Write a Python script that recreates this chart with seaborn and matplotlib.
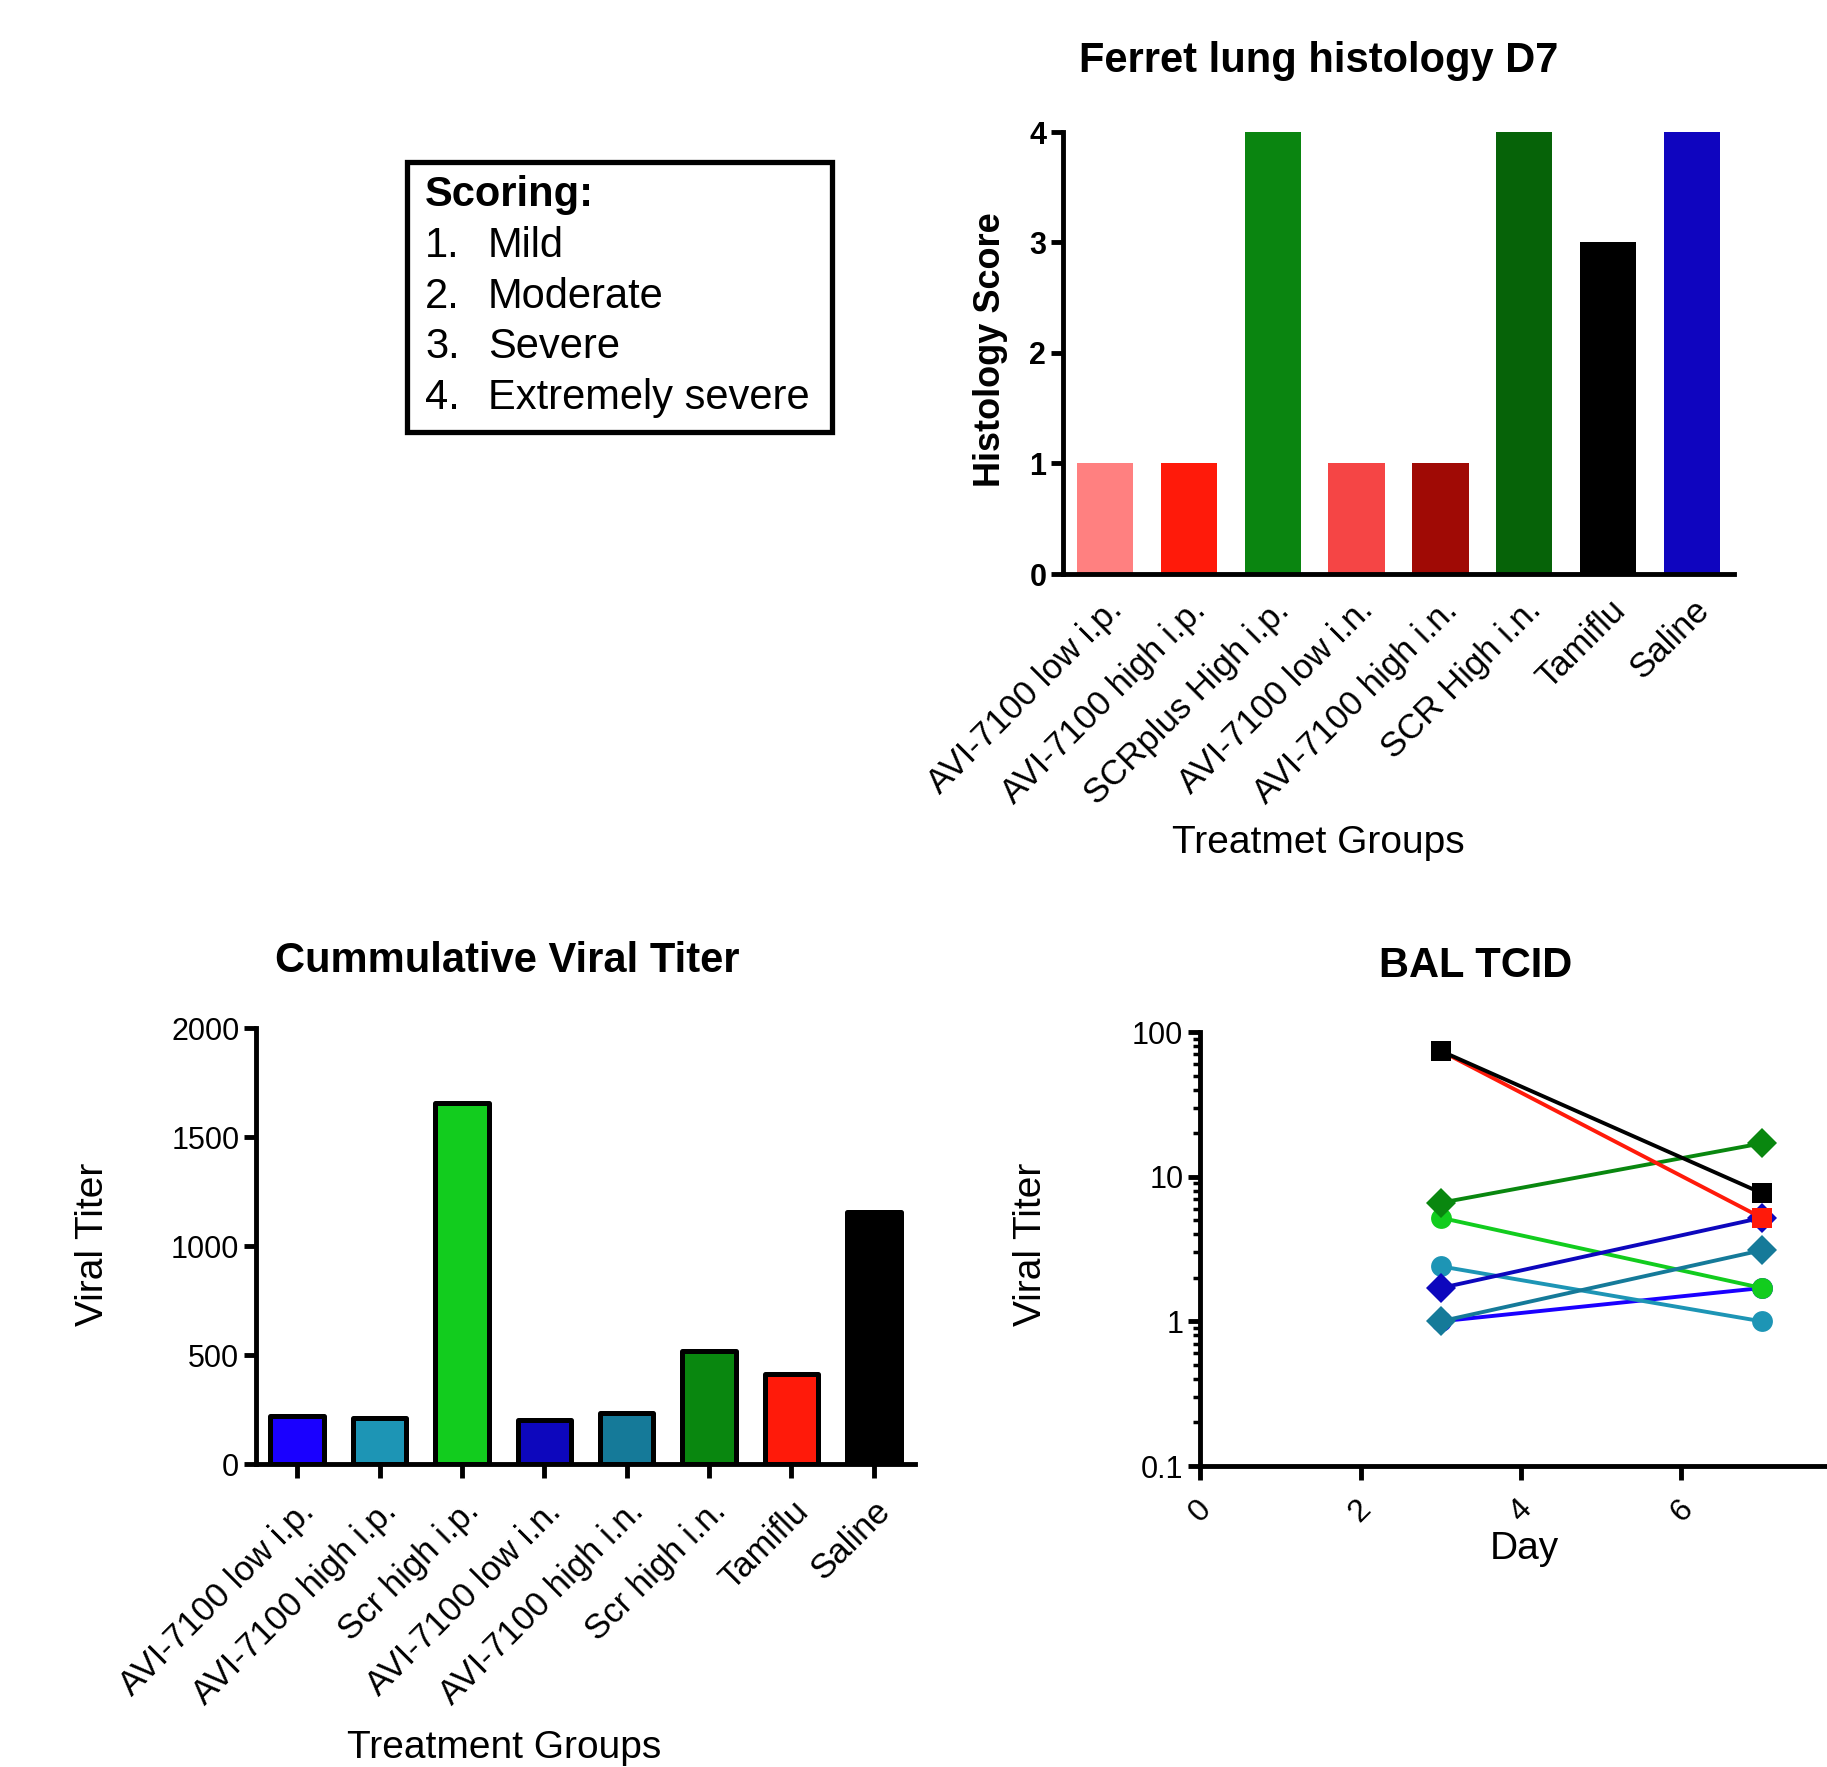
import matplotlib
matplotlib.use("Agg")
import matplotlib.pyplot as plt
import seaborn as sns
import pandas as pd
from matplotlib.patches import Rectangle
from matplotlib.ticker import LogLocator, NullFormatter, FixedLocator, FixedFormatter

# Ferret lung histology D7
histo_groups = ["AVI-7100 low i.p.", "AVI-7100 high i.p.", "SCRplus High i.p.",
                "AVI-7100 low i.n.", "AVI-7100 high i.n.", "SCR High i.n.", "Tamiflu", "Saline"]
histo_scores = [1, 1, 4, 1, 1, 4, 3, 4]
histo_colors = ["#ff8080", "#ff1a0a", "#0a8510", "#f54545", "#a00a05", "#066308", "#000000", "#0f05bf"]

# Cumulative viral titer
titer_groups = ["AVI-7100 low i.p.", "AVI-7100 high i.p.", "Scr high i.p.",
                "AVI-7100 low i.n.", "AVI-7100 high i.n.", "Scr high i.n.", "Tamiflu", "Saline"]
titer_values = [222, 212, 1655, 202, 232, 520, 412, 1155]
titer_colors = ["#1a00ff", "#1d95b5", "#12cc1e", "#0d07bd", "#157a99", "#09870f", "#ff1a0a", "#000000"]

# BAL TCID (day 3 and day 7)
bal_days = [3, 7]
bal_day3 = [1.0, 2.4, 5.2, 1.7, 1.0, 6.6, 74, 74]
bal_day7 = [1.7, 1.0, 1.7, 5.2, 3.1, 17, 5.2, 7.7]
bal_markers = ["o", "o", "o", "D", "D", "D", "s", "s"]

scoring_lines = ["Mild", "Moderate", "Severe", "Extremely severe"]

sns.set_style("ticks")
plt.rcParams["font.family"] = ["Liberation Sans", "DejaVu Sans"]
plt.rcParams.update({
    "axes.linewidth": 3.5,
    "axes.edgecolor": "black",
    "text.color": "black",
    "axes.labelcolor": "black",
    "xtick.color": "black",
    "ytick.color": "black",
})

W, H = 1827, 1767
fig = plt.figure(figsize=(W / 100, H / 100), dpi=100)


def fx(px):
    return px / W


def fy(py):
    return 1 - py / H


# ---- top right: histology bars
ax1 = fig.add_axes([fx(1063), fy(574), fx(671), 442 / H])
df1 = pd.DataFrame({"group": histo_groups, "score": histo_scores})
sns.barplot(data=df1, x="group", y="score", hue="group", palette=histo_colors,
            legend=False, saturation=1, width=0.67, linewidth=0, ax=ax1)
ax1.set_xlim(-0.5, 7.5)
ax1.set_ylim(0, 4)
ax1.set_yticks([0, 1, 2, 3, 4])
ax1.tick_params(axis="y", length=9, width=3.5, labelsize=22, pad=3)
ax1.tick_params(axis="x", length=0, pad=14)
for lab in ax1.get_yticklabels():
    lab.set_fontweight("bold")
ax1.set_xticks(range(len(histo_groups)))
ax1.set_xticklabels(histo_groups, rotation=45, ha="right", va="top",
                    rotation_mode="anchor", fontsize=25)
ax1.set_xlabel("")
ax1.set_ylabel("")
sns.despine(ax=ax1)

# ---- bottom left: viral titer bars
ax2 = fig.add_axes([fx(256), fy(1464), fx(659), 436 / H])
df2 = pd.DataFrame({"group": titer_groups, "titer": titer_values})
sns.barplot(data=df2, x="group", y="titer", hue="group", palette=titer_colors,
            legend=False, saturation=1, width=0.65, edgecolor="black",
            linewidth=3.6, ax=ax2)
for p in ax2.patches:
    p.set_joinstyle("round")
ax2.set_xlim(-0.5, 7.5)
ax2.set_ylim(0, 2000)
ax2.set_yticks([0, 500, 1000, 1500, 2000])
ax2.tick_params(axis="y", length=9, width=3.5, labelsize=22, pad=3)
ax2.tick_params(axis="x", length=10, width=3.5, pad=12)
ax2.set_xticks(range(len(titer_groups)))
ax2.set_xticklabels(titer_groups, rotation=45, ha="right", va="top",
                    rotation_mode="anchor", fontsize=25)
ax2.set_xlabel("")
ax2.set_ylabel("")
sns.despine(ax=ax2)

# ---- bottom right: BAL TCID lines
ax3 = fig.add_axes([fx(1200), fy(1466), fx(642), 434 / H])
rows = []
for g, a, b in zip(titer_groups, bal_day3, bal_day7):
    rows.append({"group": g, "day": bal_days[0], "titer": a})
    rows.append({"group": g, "day": bal_days[1], "titer": b})
df3 = pd.DataFrame(rows)
sns.lineplot(data=df3, x="day", y="titer", hue="group", style="group",
             hue_order=titer_groups, style_order=titer_groups,
             palette=dict(zip(titer_groups, titer_colors)),
             markers=dict(zip(titer_groups, bal_markers)), dashes=False,
             markersize=15, markeredgewidth=0, linewidth=2.8, legend=False, ax=ax3)
ax3.set_yscale("log")
ax3.set_ylim(0.1, 100)
ax3.set_xlim(0, 8)
ax3.yaxis.set_major_locator(FixedLocator([0.1, 1, 10, 100]))
ax3.yaxis.set_major_formatter(FixedFormatter(["0.1", "1", "10", "100"]))
ax3.yaxis.set_minor_locator(LogLocator(base=10, subs=range(2, 10)))
ax3.yaxis.set_minor_formatter(NullFormatter())
ax3.set_xticks([0, 2, 4, 6])
ax3.tick_params(axis="y", which="major", length=9, width=3.5, labelsize=22, pad=3)
ax3.tick_params(axis="y", which="minor", length=5, width=2.5)
ax3.tick_params(axis="x", length=10, width=3.5, labelsize=23, pad=10)
for lab in ax3.get_xticklabels():
    lab.set_rotation(45)
ax3.set_xlabel("")
ax3.set_ylabel("")
sns.despine(ax=ax3)

# ---- titles and axis labels
fig.text(fx(1319), fy(61), "Ferret lung histology D7", fontsize=30, fontweight="bold",
         ha="center", va="center")
fig.text(fx(507), fy(961), "Cummulative Viral Titer", fontsize=30, fontweight="bold",
         ha="center", va="center")
fig.text(fx(1476), fy(966), "BAL TCID", fontsize=30, fontweight="bold",
         ha="center", va="center")
fig.text(fx(990), fy(350), "Histology Score", fontsize=26, fontweight="bold",
         rotation=90, ha="center", va="center")
fig.text(fx(1318), fy(843), "Treatmet Groups", fontsize=28, ha="center", va="center")
fig.text(fx(93), fy(1244), "Viral Titer", fontsize=28, rotation=90, ha="center", va="center")
fig.text(fx(504), fy(1748), "Treatment Groups", fontsize=28, ha="center", va="center")
fig.text(fx(1031), fy(1244), "Viral Titer", fontsize=28, rotation=90, ha="center", va="center")
fig.text(fx(1524), fy(1549), "Day", fontsize=28, ha="center", va="center")

# ---- scoring box
fig.patches.append(Rectangle((fx(407), fy(432)), fx(425), 270 / H, transform=fig.transFigure,
                             fill=False, edgecolor="black", linewidth=3.8))
fig.text(fx(425), fy(195), "Scoring:", fontsize=30, fontweight="bold", ha="left", va="center")
for i, txt in enumerate(scoring_lines):
    y = 246 + i * 50.5
    fig.text(fx(425), fy(y), f"{i + 1}.", fontsize=30, ha="left", va="center")
    fig.text(fx(488), fy(y), txt, fontsize=30, ha="left", va="center")

fig.savefig("out.png", dpi=100)
